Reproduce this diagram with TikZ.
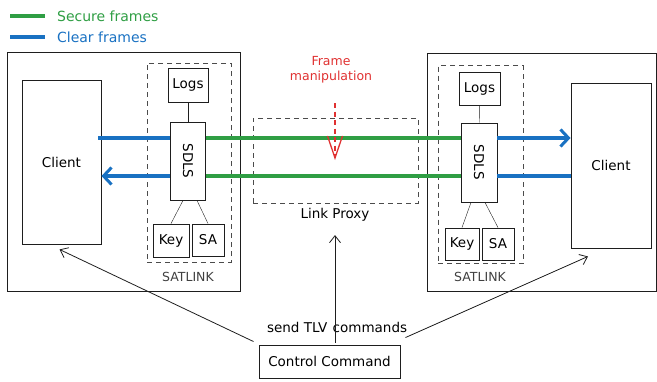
\documentclass[tikz,border=0pt]{standalone}
\usepackage{fontspec}
\setmainfont{DejaVu Sans}
\usepackage{tikz}
\usetikzlibrary{arrows.meta}
\usetikzlibrary{calc}

\definecolor{inkgray}{HTML}{1E1E1E}
\definecolor{securegreen}{HTML}{2F9E44}
\definecolor{clearblue}{HTML}{1971C2}
\definecolor{manipred}{HTML}{E03131}

\begin{document}
\begin{tikzpicture} [x = 1pt, y = -1pt, font = \fontsize{13.5}{16}\selectfont,
    box/.style = {draw = inkgray, line width = 0.9pt, inner sep = 0,
        minimum width = #1},
    group/.style = {draw = inkgray!80, dashed, line width = 0.8pt,
        dash pattern = on 5pt off 4pt, inner sep = 0},
    secure/.style = {securegreen, line width = 3.6pt},
    clear/.style = {clearblue, line width = 3.6pt},
    barb/.style = {-{Straight Barb[length = 8pt, width = 17pt, line width = 3pt]}},
    cmd/.style = {inkgray, line width = 0.8pt,
        -{Straight Barb[length = 7pt, width = 11pt]}},
    tiny/.style = {font = \fontsize{12.5}{15}\selectfont},
    legend/.style = {font = \fontsize{14}{16}\selectfont}]
    \useasboundingbox (0, 0) rectangle (657, 381);

    % legend
    \draw[secure] (10, 16) -- (45, 16) node[right = 7pt, legend, securegreen] (lgsec) {Secure frames};
    \draw[clear] (10, 37) -- (45, 37) node[right = 7pt, legend, clearblue] (lgclr) {Clear frames};

    % rows of the frame lines
    \coordinate (rowa) at (0, 138);
    \coordinate (rowb) at (0, 176);

    % left side
    \node[box = 233pt, minimum height = 239pt] (lbox) at (123.5, 171.5) {};
    \node[box = 79pt, minimum height = 164pt] (lcl) at (61.5, 162) {Client};
    \node[group, minimum width = 84pt, minimum height = 199pt] (lgrp) at (189, 162.5) {};
    \node[box = 40pt, minimum height = 34pt] (llogs) at (188, 85) {Logs};
    \node[box = 35pt, minimum height = 78pt] (lsdls) at (188, 161) {\rotatebox{-90}{SDLS}};
    \node[box = 36pt, minimum height = 33pt] (lkey) at (171, 240.5) {Key};
    \node[box = 32pt, minimum height = 32pt] (lsa) at (208, 240) {SA};
    \node[tiny, inkgray!85] (lsat) at (188, 277) {SATLINK};
    \draw[inkgray] (llogs) -- (lsdls);
    \draw[inkgray] ($(lsdls.south)+(-5, 0)$) -- (lkey.north);
    \draw[inkgray] ($(lsdls.south)+(9, 0)$) -- (lsa.north);

    % right side
    \node[box = 229pt, minimum height = 238pt] (rbox) at (541.5, 172) {};
    \node[box = 80pt, minimum height = 165pt] (rcl) at (611, 165.5) {Client};
    \node[group, minimum width = 85pt, minimum height = 198pt] (rgrp) at (480.5, 164.5) {};
    \node[box = 41pt, minimum height = 33pt] (rlogs) at (479.5, 88.5) {Logs};
    \node[box = 36pt, minimum height = 79pt] (rsdls) at (479, 162.5) {\rotatebox{-90}{SDLS}};
    \node[box = 34pt, minimum height = 32pt] (rkey) at (462, 244) {Key};
    \node[box = 32pt, minimum height = 32pt] (rsa) at (498, 244) {SA};
    \node[tiny, inkgray!85] (rsat) at (480, 277) {SATLINK};
    \draw[inkgray] (rlogs) -- (rsdls);
    \draw[inkgray] ($(rsdls.south)+(-8, 0)$) -- (rkey.north);
    \draw[inkgray] ($(rsdls.south)+(6, 0)$) -- (rsa.north);

    % link proxy
    \node[group, minimum width = 165pt, minimum height = 85pt] (proxy) at (335.5, 160.5) {};
    \node (plabel) at (335, 215) {Link Proxy};

    % frames
    \draw[secure] (lsdls.east |- rowa) -- (rsdls.west |- rowa);
    \draw[secure] (lsdls.east |- rowb) -- (rsdls.west |- rowb);
    \draw[clear] (lsdls.west |- rowa) -- ($(lcl.east |- rowa)+(-3, 0)$);
    \draw[clear, barb] (lsdls.west |- rowb) -- (lcl.east |- rowb);
    \draw[clear, barb] (rsdls.east |- rowa) -- (rcl.west |- rowa);
    \draw[clear] (rsdls.east |- rowb) -- (rcl.west |- rowb);

    % frame manipulation
    \node[tiny, manipred, align = center] (manip) at (331, 70) {Frame\\manipulation};
    \coordinate (hit) at (335, 160);
    \draw[manipred, line width = 1.3pt, dash pattern = on 5pt off 3.5pt,
        -{Straight Barb[length = 22pt, width = 15pt]}] (335, 103) -- (hit);

    % control command
    \node[box = 141pt, minimum height = 33pt] (ctl) at (329.5, 361.5) {Control Command};
    \node[anchor = east, inner sep = 1.5pt] (sendtlv) at (329, 327) {send TLV};
    \node[anchor = west, inner sep = 1.5pt] (tlvcmds) at (331, 327) {commands};
    \draw[cmd] (ctl.north -| plabel) ++(0, -2) -- ($(plabel.south)+(0, 10)$);
    \draw[cmd] ($(ctl.north west)+(-5, -3)$) -- ($(lcl.south)+(-2, 5)$);
    \draw[cmd] ($(ctl.north east)+(5, -7)$) -- ($(rcl.south)+(-23, 8)$);
\end{tikzpicture}
\end{document}
